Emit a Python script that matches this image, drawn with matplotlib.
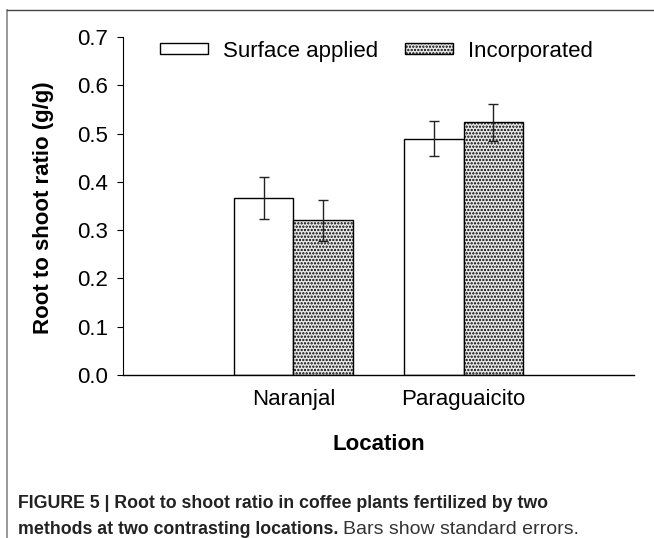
import matplotlib
matplotlib.use("Agg")
import matplotlib.pyplot as plt
from matplotlib.lines import Line2D
import numpy as np

plt.rcParams['font.family'] = ['Liberation Sans', 'DejaVu Sans']
plt.rcParams['hatch.linewidth'] = 1.1

locations = ["Naranjal", "Paraguaicito"]
series_names = ["Surface applied", "Incorporated"]
surface = [0.367, 0.489]
surface_err = [0.043, 0.036]
incorporated = [0.320, 0.523]
incorporated_err = [0.043, 0.039]
yticks = [0.0, 0.1, 0.2, 0.3, 0.4, 0.5, 0.6, 0.7]

W, H = 654, 538
FS = 16
fig = plt.figure(figsize=(W / 100, H / 100), dpi=100)
ax = fig.add_axes([123 / W, 1 - 375 / H, (634 - 123) / W, (375 - 37) / H])

x = np.arange(1, len(locations) + 1)
bw = 0.35
ekw = dict(elinewidth=1.0, capthick=1.0, ecolor='#222222')
ax.bar(x - bw / 2, surface, bw, color='white', edgecolor='black', linewidth=1.0,
       yerr=surface_err, capsize=3.6, error_kw=ekw, label=series_names[0], zorder=2)
ax.bar(x + bw / 2, incorporated, bw, color='#e8e8e8', edgecolor='black', linewidth=1.0,
       hatch='.....', yerr=incorporated_err, capsize=3.6, error_kw=ekw,
       label=series_names[1], zorder=2)

ax.set_xlim(0, 3)
ax.set_ylim(0, 0.7)
ax.set_yticks(yticks)
ax.set_yticklabels([f"{v:.1f}" for v in yticks], fontsize=FS)
ax.set_xticks(x)
ax.set_xticklabels(locations, fontsize=FS)
ax.tick_params(axis='x', length=0, pad=10)
ax.tick_params(axis='y', length=4, direction='out', pad=7, width=0.8)
for s in ['top', 'right']:
    ax.spines[s].set_visible(False)
ax.spines['left'].set_linewidth(0.8)
ax.spines['bottom'].set_linewidth(1.0)

fig.text(44 / W, 1 - 208 / H, "Root to shoot ratio (g/g)", rotation=90, fontsize=FS,
         fontweight='bold', ha='center', va='center')
fig.text(378.5 / W, 1 - 445 / H, "Location", fontsize=FS, fontweight='bold',
         ha='center', va='center')

leg = ax.legend(loc='center left', bbox_to_anchor=(160 / W, 1 - 51 / H),
                bbox_transform=fig.transFigure, ncol=2, frameon=False,
                fontsize=FS, handlelength=2.16, handleheight=0.36, columnspacing=1.2,
                handletextpad=0.68, borderpad=0, borderaxespad=0)

# figure frame
fig.add_artist(Line2D([7 / W, 7 / W], [0, 1 - 10 / H], color='#888888', lw=1.2,
                      transform=fig.transFigure))
fig.add_artist(Line2D([7 / W, 1], [1 - 10 / H, 1 - 10 / H], color='#444444', lw=1.0,
                      transform=fig.transFigure))

cap_fam = ['Liberation Sans Narrow', 'Liberation Sans', 'DejaVu Sans']
fig.text(18 / W, 1 - 503 / H, "FIGURE 5 | Root to shoot ratio in coffee plants fertilized by two",
         fontsize=12.8, fontweight='bold', va='center', ha='left', family=cap_fam,
         color='#222222')
t1 = fig.text(18 / W, 1 - 529 / H, "methods at two contrasting locations.",
              fontsize=12.8, fontweight='bold', va='center', ha='left', family=cap_fam,
              color='#222222')
fig.canvas.draw()
bb = t1.get_window_extent()
fig.text((bb.x1 + 5) / W, 1 - 529 / H, "Bars show standard errors.",
         fontsize=14, va='center', ha='left', family=cap_fam, color='#333333')

fig.savefig("out.png", dpi=100)
